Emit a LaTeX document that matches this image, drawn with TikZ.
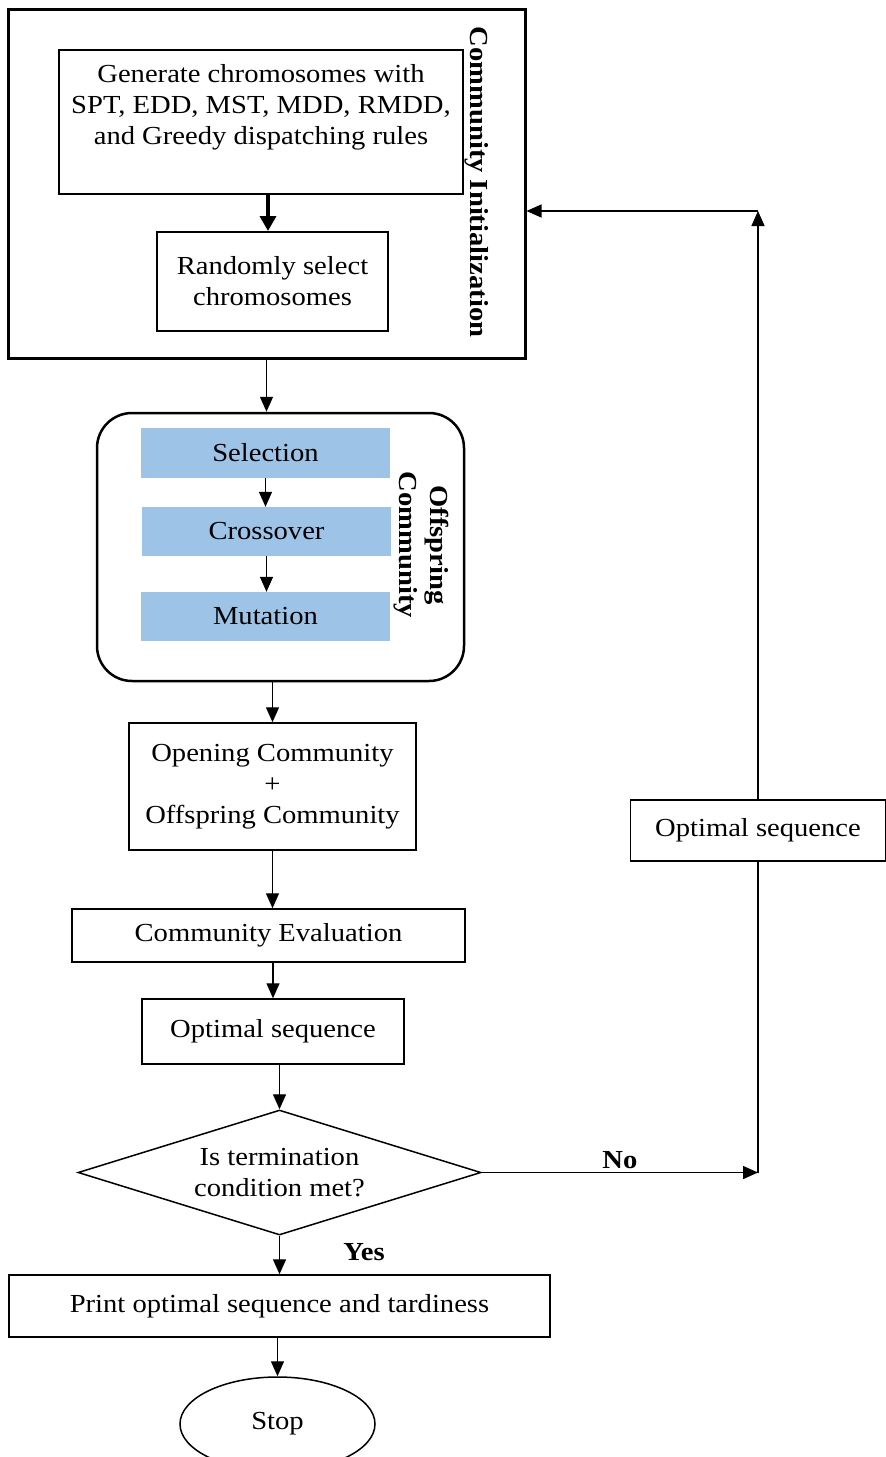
\documentclass[tikz,border=0pt]{standalone}
\usepackage{fontspec}
\setmainfont{Liberation Serif}[FakeStretch=1.1]
\usepackage{xcolor}
\usetikzlibrary{arrows.meta,positioning,shapes}
\definecolor{stepblue}{HTML}{9DC3E6}

\begin{document}
\begin{tikzpicture}[x=1pt,y=-1pt,every node/.style={font=\fontsize{26}{31}\selectfont}]
  \tikzstyle{Box}=[draw, line width=1.5pt, rectangle, inner sep=0pt, align=center]
  \tikzstyle{BlueBox}=[fill=stepblue, rectangle, inner sep=0pt, minimum width=249pt, minimum height=49pt]
  \tikzstyle{Arrow}=[-{Triangle[length=15pt,width=13pt]}, line width=1.4pt]
  \tikzstyle{SideLabel}=[font=\fontsize{26}{31}\selectfont\bfseries, rotate=-90, align=center]
  \useasboundingbox (0,0) rectangle (886,1457);
  \clip (0,0) rectangle (886,1457);

  % community initialization
  \node[Box, line width=3pt, minimum width=517pt, minimum height=349pt] (init) at (266.5,183.5) {};
  \node[Box, minimum width=404pt, minimum height=144pt] (gen) at (261,122) {};
  \node[align=center] (gentext) at (261,107) {Generate chromosomes with\\SPT, EDD, MST, MDD, RMDD,\\and Greedy dispatching rules};
  \node[Box, minimum width=231pt, minimum height=99pt] (random) at (272.5,281.5) {Randomly select\\chromosomes};
  \node[SideLabel] (initlabel) at (477,182) {Community Initialization};

  % offspring community
  \node[draw, line width=2.5pt, rounded corners=35pt, minimum width=367pt, minimum height=268pt] (offs) at (280.5,547) {};
  \node[BlueBox, minimum height=50pt] (sel) at (265.5,453) {Selection};
  \node[BlueBox] (cross) at (266.5,531.5) {Crossover};
  \node[BlueBox] (mut) at (265.5,616.5) {Mutation};
  \node[SideLabel] (offslabel) at (421,545) {Offspring\\Community};

  \node[Box, minimum width=287pt, minimum height=127pt] (opening) at (272.5,786.5) {Opening Community\\+\\Offspring Community};
  \node[Box, minimum width=393pt, minimum height=53pt] (eval) at (268.5,935.5) {Community Evaluation};
  \node[Box, minimum width=262pt, minimum height=65pt] (opt) at (273,1031.5) {Optimal sequence};
  \node[draw, line width=1.5pt, diamond, aspect=3.2, inner sep=0pt, minimum width=403pt, minimum height=125pt, align=center] (cond) at (279.5,1172.5) {Is termination\\condition met?};
  \node[Box, minimum width=541pt, minimum height=62pt] (print) at (279.5,1306) {Print optimal sequence and tardiness};
  \node[draw, line width=1.5pt, ellipse, minimum width=195pt, minimum height=94pt] (stop) at (277.5,1424) {Stop};
  \node[Box, minimum width=255pt, minimum height=61pt] (optr) at (758,830.5) {Optimal sequence};

  \coordinate (noend) at (optr.south |- cond.east);
  \coordinate (backup) at (optr.north |- 0,211);

  \draw[-{Triangle[length=15pt,width=16pt]}, line width=3.5pt] (268,194) -- (268,231);
  \draw[Arrow] (init.south) -- (init.south |- offs.north);
  \draw[Arrow] (sel.south) -- (sel.south |- cross.north);
  \draw[Arrow] (cross.south) -- (cross.south |- mut.north);
  \draw[Arrow] (opening.north |- offs.south) -- (opening.north);
  \draw[Arrow] (opening.south) -- (opening.south |- eval.north);
  \draw[Arrow] (opt.north |- eval.south) -- (opt.north);
  \draw[Arrow] (cond.north |- opt.south) -- (cond.north);
  \draw[Arrow] (cond.south) -- (cond.south |- print.north);
  \draw[Arrow] (stop.north |- print.south) -- (stop.north);
  \draw[Arrow] (cond.east) -- node[above, font=\fontsize{26}{31}\selectfont\bfseries] {No} (noend);
  \draw[line width=1.4pt] (noend) -- (optr.south);
  \draw[Arrow] (optr.north) -- (backup);
  \draw[Arrow] (backup) -- (init.east |- backup);
  \node[font=\fontsize{26}{31}\selectfont\bfseries] (yes) at (364,1252) {Yes};
\end{tikzpicture}
\end{document}
